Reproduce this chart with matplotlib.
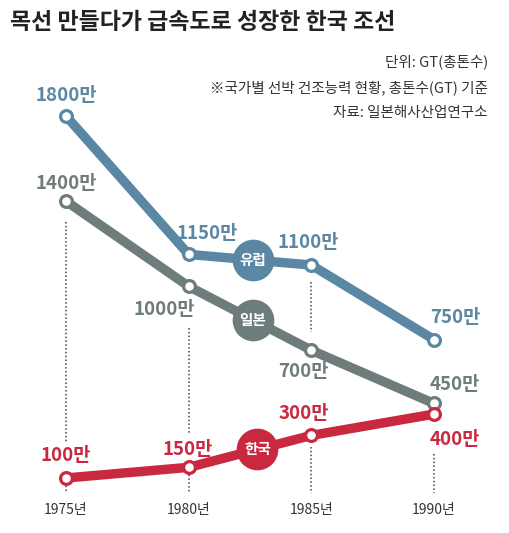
import numpy as np
import matplotlib
matplotlib.use('Agg')
import matplotlib.pyplot as plt

plt.rcParams['font.family'] = ['Noto Sans CJK KR', 'DejaVu Sans']

# data (만 GT)
years = [1975, 1980, 1985, 1990]
year_labels = ['1975년', '1980년', '1985년', '1990년']
europe = [1800, 1150, 1100, 750]
japan = [1400, 1000, 700, 450]
korea = [100, 150, 300, 400]

title = '목선 만들다가 급속도로 성장한 한국 조선'
notes = ['단위: GT(총톤수)', '※국가별 선박 건조능력 현황, 총톤수(GT) 기준', '자료: 일본해사산업연구소']

c_eu = '#5a87a3'
c_jp = '#6e7d7c'
c_kr = '#c9283f'

# label offsets in pixels (dx, dy) for each point
off_eu = [(0, 20), (19, 21), (-3, 23), (21, 22)]
off_jp = [(0, 18), (-24, -23), (-8, -21), (21, 19)]
off_kr = [(0, 22), (-1, 18), (-7, 22), (21, -25)]

# dotted guide lines (year, top value, bottom value)
guides = [(1975, 1300, 270), (1975, 100, 30),
          (1980, 805, 300), (1980, 150, 30),
          (1985, 1020, 785), (1985, 245, 30),
          (1990, 215, 30)]

fig = plt.figure(figsize=(5.1, 5.33), dpi=100)
ax = fig.add_axes([0, 0, 1, 1])
ax.set_xlim(1972.31, 1993.10)
ax.set_ylim(-158.3, 2344.7)
ax.axis('off')

for x, y0, y1 in guides:
    ax.plot([x, x], [y0, y1], color='#444444', lw=1.1, ls=(0, (1, 1.5)), zorder=1)

series = [(europe, c_eu, off_eu, '유럽', 1982.62),
          (japan, c_jp, off_jp, '일본', 1982.62),
          (korea, c_kr, off_kr, '한국', 1982.80)]

for vals, col, offs, name, bx in series:
    ax.plot(years, vals, color=col, lw=6.8, solid_capstyle='round', zorder=2)
    ax.plot(years, vals, 'o', ms=8.5, mfc='white', mec=col, mew=2.3, zorder=3)
    for x, v, (dx, dy) in zip(years, vals, offs):
        ax.annotate(f'{v}만', (x, v), xytext=(dx, dy), textcoords='offset pixels',
                    ha='center', va='center', fontsize=13.5, fontweight='bold',
                    color=col, zorder=4)
    by = np.interp(bx, years, vals)
    ax.scatter([bx], [by], s=900, color=col, zorder=4, linewidths=0)
    ax.text(bx, by, name, ha='center', va='center', fontsize=10.5,
            fontweight='bold', color='white', zorder=5)

for x, lab in zip(years, year_labels):
    ax.annotate(lab, (x, 0), xytext=(0, -11), textcoords='offset pixels',
                ha='center', va='center', fontsize=10, color='#333333')

fig.text(10 / 510, 1 - 22 / 533, title, ha='left', va='center',
         fontsize=16.5, fontweight='bold', color='#222222')
for i, n in enumerate(notes):
    fig.text(488 / 510, 1 - (62 + 25.5 * i) / 533, n, ha='right', va='center',
             fontsize=10.5, color='#333333')

fig.savefig('out.png', dpi=100)
